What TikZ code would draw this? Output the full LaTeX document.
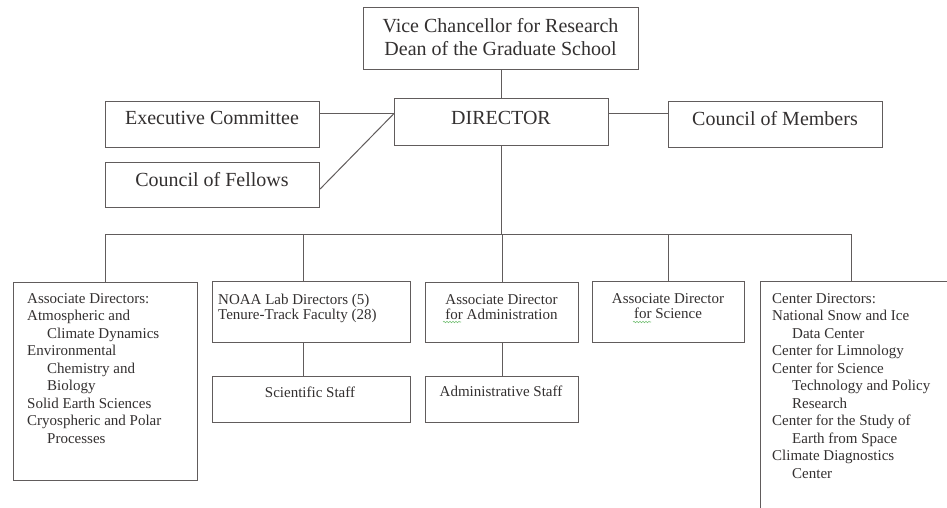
\documentclass[tikz,border=0pt]{standalone}
\usepackage{fontspec}
\setmainfont{Liberation Serif}
\usetikzlibrary{decorations.pathmorphing}
\definecolor{ln}{rgb}{0.38,0.36,0.36}
\definecolor{tx}{rgb}{0.2,0.19,0.19}
\definecolor{spell}{rgb}{0.45,0.75,0.45}
\tikzset{
  box/.style={draw=ln, line width=1.1pt, inner sep=0pt, anchor=north west},
  conn/.style={draw=ln, line width=1pt},
  bigtext/.style={font=\fontsize{20}{23}\selectfont, text=tx, inner sep=0pt, align=center},
  smalltext/.style={font=\fontsize{15}{17.5}\selectfont, text=tx, inner sep=0pt},
  tighttext/.style={font=\fontsize{15}{15}\selectfont, text=tx, inner sep=0pt},
  squig/.style={draw=spell, line width=0.6pt, decorate, decoration={snake, segment length=3pt, amplitude=0.7pt}}
}
\newcommand{\ind}{\hspace*{20pt}}
\begin{document}
\begin{tikzpicture}[x=1pt, y=-1pt]
\useasboundingbox (0,0) rectangle (947,507);
\clip (0,0) rectangle (947,507);
\fill[white] (0,0) rectangle (947,507);

% boxes
\node[box, minimum width=275pt, minimum height=62pt] (vc) at (363,7) {};
\node[box, minimum width=214pt, minimum height=47pt] (dir) at (394,98) {};
\node[box, minimum width=214pt, minimum height=46pt] (exec) at (105,101) {};
\node[box, minimum width=214pt, minimum height=45pt] (fell) at (105,162) {};
\node[box, minimum width=214pt, minimum height=46pt] (memb) at (668,101) {};
\node[box, minimum width=184pt, minimum height=198pt] (b1) at (13,282) {};
\node[box, minimum width=198pt, minimum height=61pt] (b2) at (212,281) {};
\node[box, minimum width=153pt, minimum height=60pt] (b3) at (425,282) {};
\node[box, minimum width=152pt, minimum height=61pt] (b4) at (592,281) {};
\node[box, minimum width=220pt, minimum height=260pt] (b5) at (760,281) {};
\node[box, minimum width=198pt, minimum height=46pt] (sci) at (212,376) {};
\node[box, minimum width=153pt, minimum height=46pt] (adm) at (425,376) {};

% texts
\node[bigtext, anchor=north] (vct) at (500.5,18.5) {Vice Chancellor for Research\\Dean of the Graduate School};
\node[bigtext, anchor=base] (dirt) at (501,124.5) {DIRECTOR};
\node[bigtext, anchor=base] (exect) at (212,124.5) {Executive Committee};
\node[bigtext, anchor=base] (fellt) at (212,186.5) {Council of Fellows};
\node[bigtext, anchor=base] (membt) at (775,125.5) {Council of Members};

\node[smalltext, anchor=north west, align=left] (b1t) at (27,293) {Associate Directors:\\Atmospheric and\\\ind Climate Dynamics\\Environmental\\\ind Chemistry and\\\ind Biology\\Solid Earth Sciences\\Cryospheric and Polar\\\ind Processes};
\node[tighttext, anchor=north west, align=left] (b2t) at (218,294) {NOAA Lab Directors (5)\\Tenure-Track Faculty (28)};
\node[tighttext, anchor=north, align=center] (b3t) at (501.5,294) {Associate Director\\for Administration};
\node[tighttext, anchor=north, align=center] (b4t) at (668,293) {Associate Director\\for Science};
\node[smalltext, anchor=north west, align=left] (b5t) at (772,293) {Center Directors:\\National Snow and Ice\\\ind Data Center\\Center for Limnology\\Center for Science\\\ind Technology and Policy\\\ind Research\\Center for the Study of\\\ind Earth from Space\\Climate Diagnostics\\\ind Center};
\node[smalltext, anchor=base] (scit) at (310,397) {Scientific Staff};
\node[smalltext, anchor=base] (admt) at (501,396) {Administrative Staff};

% spell-check marks
\path[squig] (443,322) -- (461,322);
\path[squig] (633,322) -- (651,322);

% connectors
\draw[conn] (vc.south -| dir.south) -- (dir.north);
\draw[conn] (exec.east |- 0,113.5) -- (dir.west |- 0,113.5);
\draw[conn] (fell.east |- 0,189) -- (dir.west |- 0,113.5);
\draw[conn] (dir.east |- 0,113.5) -- (memb.west |- 0,113.5);
\coordinate (busL) at (105,234);
\coordinate (busR) at (851,234);
\coordinate (j2) at (303,234);
\draw[conn] (dir.south) -- (dir.south |- busL);
\draw[conn] (busL) -- (busR);
\draw[conn] (busL) -- (busL |- b1.north);
\draw[conn] (j2) -- (j2 |- b2.north);
\draw[conn] (j2 |- b2.south) -- (j2 |- sci.north);
\draw[conn] (b3.north |- busL) -- (b3.north);
\draw[conn] (b3.south) -- (adm.north);
\draw[conn] (b4.north |- busL) -- (b4.north);
\draw[conn] (busR) -- (busR |- b5.north);
\end{tikzpicture}
\end{document}
